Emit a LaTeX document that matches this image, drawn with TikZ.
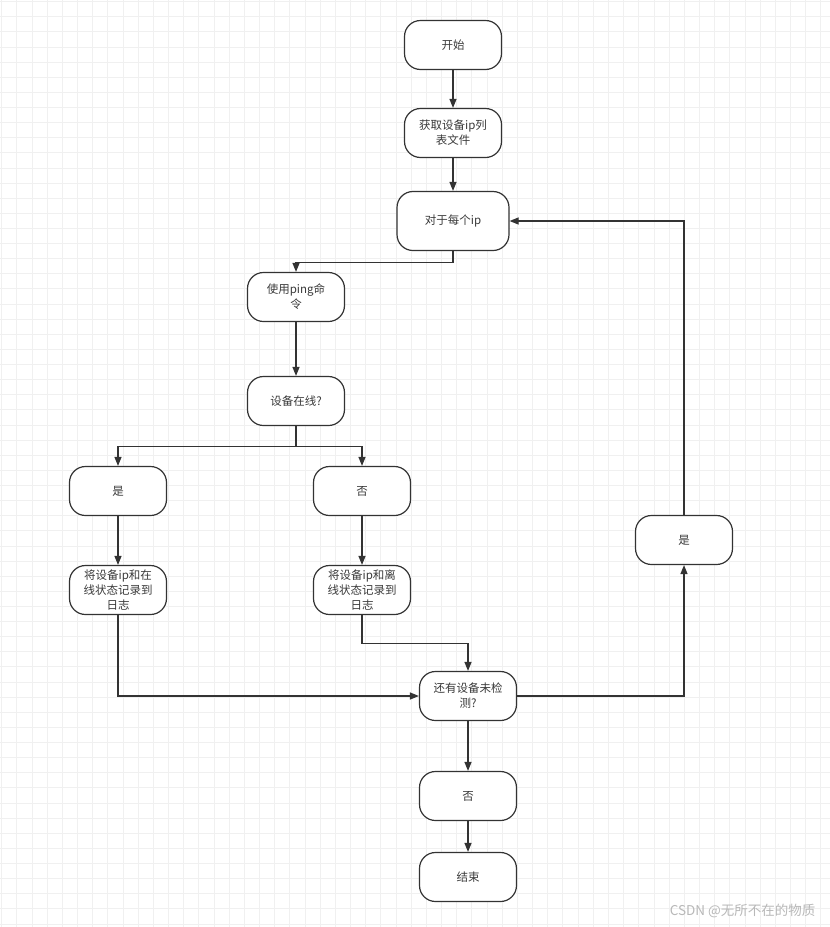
\documentclass[tikz,border=0pt]{standalone}
\usepackage{fontspec}
\setmainfont{Noto Sans CJK SC}
\usepackage{tikz}
\usetikzlibrary{arrows.meta, positioning}
\definecolor{cline}{HTML}{333333}
\definecolor{ctext}{HTML}{3A3A3A}
\definecolor{cgrid}{HTML}{F0F0F0}

\begin{document}
\begin{tikzpicture}[
    x=1pt, y=-1pt,
    font=\fontsize{11.5}{15}\selectfont,
    stepbox/.style={
        rectangle, rounded corners=16pt, draw=cline, line width=1.2pt,
        fill=white, text=ctext, align=center,
        minimum width=97pt, minimum height=49pt, inner sep=2pt
    },
    bigbox/.style={stepbox, minimum width=112pt, minimum height=59pt},
    flow/.style={-{Triangle[length=9pt,width=7pt]}, draw=cline, line width=1.2pt}
]
\useasboundingbox (0,0) rectangle (830,927);
\fill[white] (0,0) rectangle (830,927);

% background grid
\foreach \k in {0,...,54}{
  \draw[cgrid, line width=1pt] ({1.7+15.17*\k},0) -- ({1.7+15.17*\k},927);
}
\foreach \k in {0,...,61}{
  \draw[cgrid, line width=1pt] (0,{1.7+15.12*\k}) -- (830,{1.7+15.12*\k});
}

\node[stepbox] (start) at (453,45)  {开始};
\node[stepbox] (load)  at (453,133) {获取设备ip列\\表文件};
\node[bigbox]  (loop)  at (453,221) {对于每个ip};
\node[stepbox] (ping)  at (296,297) {使用ping命\\令};
\node[stepbox] (online) at (296,401) {设备在线?};
\node[stepbox] (yes1)  at (118,491) {是};
\node[stepbox] (no1)   at (362,491) {否};
\node[stepbox] (log1)  at (118,590) {将设备ip和在\\线状态记录到\\日志};
\node[stepbox] (log2)  at (362,590) {将设备ip和离\\线状态记录到\\日志};
\node[stepbox] (check) at (468,696) {还有设备未检\\测?};
\node[stepbox] (no2)   at (468,796) {否};
\node[stepbox] (stop)  at (468,877) {结束};
\node[stepbox] (yes2)  at (684,540) {是};

\foreach \a/\b in {start/load, load/loop, ping/online, yes1/log1, no1/log2,
                   check/no2, no2/stop}
  \draw[flow] (\a) -- (\b);

\draw[flow] (loop.south) -- ++(0,11) -| (ping.north);
\draw[flow] (online.south) -- ++(0,20) -| (yes1.north);
\draw[flow] (online.south) -- ++(0,20) -| (no1.north);
\draw[flow] (log1.south) |- (check.west);
\draw[flow] (log2.south) -- ++(0,28) -| (check.north);
\draw[flow] (check.east) -| (yes2.south);
\draw[flow] (yes2.north) |- (loop.east);

\node[text=black!28, font=\fontsize{13.5}{15}\selectfont, anchor=east] (mark) at (819,911) {CSDN @无所不在的物质};
\end{tikzpicture}
\end{document}
